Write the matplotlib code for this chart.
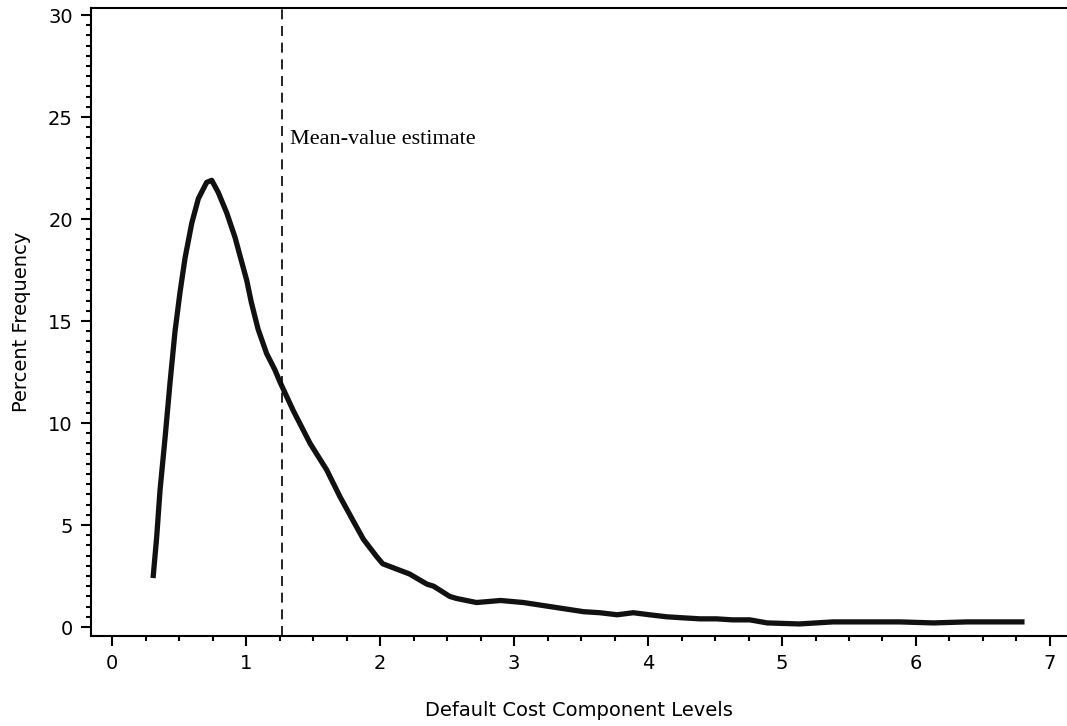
import numpy as np
import matplotlib.pyplot as plt
from matplotlib.ticker import MultipleLocator

level = [0.306, 0.333, 0.358, 0.396, 0.433, 0.47, 0.507, 0.545, 0.595, 0.644,
         0.706, 0.744, 0.793, 0.856, 0.918, 0.955, 1.005, 1.04, 1.09, 1.154,
         1.216, 1.254, 1.353, 1.478, 1.602, 1.70, 1.80, 1.876, 1.975, 2.02,
         2.10, 2.22, 2.35, 2.40, 2.52, 2.57, 2.72, 2.90, 3.07, 3.27, 3.52,
         3.64, 3.77, 3.89, 4.01, 4.14, 4.26, 4.39, 4.51, 4.63, 4.76, 4.89,
         5.13, 5.38, 5.63, 5.88, 6.13, 6.38, 6.81]
pct = [2.4, 4.4, 6.7, 9.3, 12.0, 14.5, 16.4, 18.1, 19.8, 21.0,
       21.8, 21.9, 21.3, 20.3, 19.1, 18.2, 17.0, 15.9, 14.6, 13.4,
       12.6, 12.0, 10.6, 9.0, 7.7, 6.4, 5.2, 4.3, 3.45, 3.1,
       2.9, 2.6, 2.1, 2.0, 1.5, 1.4, 1.2, 1.3, 1.2, 1.0, 0.75,
       0.7, 0.6, 0.7, 0.6, 0.5, 0.45, 0.4, 0.4, 0.35, 0.35, 0.2,
       0.15, 0.25, 0.25, 0.25, 0.2, 0.25, 0.25]
mean_estimate = 1.27

fig = plt.figure(figsize=(10.67, 7.26), dpi=100)
ax = fig.add_axes([0.0853, 0.124, 0.9147, 0.8656])

ax.plot(level, pct, color="#111111", lw=3.8, solid_joinstyle="round",
        solid_capstyle="butt")
ax.axvline(mean_estimate, color="black", lw=1.2, dashes=(6, 4))
ax.text(mean_estimate + 0.06, 23.9, "Mean-value estimate",
        family="Liberation Serif", fontsize=16, va="center", ha="left")

ax.set_xlim(-0.157, 7.127)
ax.set_ylim(-0.44, 30.37)
ax.xaxis.set_major_locator(MultipleLocator(1))
ax.xaxis.set_minor_locator(MultipleLocator(0.25))
ax.yaxis.set_major_locator(MultipleLocator(5))
ax.yaxis.set_minor_locator(MultipleLocator(0.5))
ax.tick_params(which="major", length=7, width=1.5, labelsize=14, pad=6)
ax.tick_params(which="minor", length=3.5, width=1.5)
ax.spines["right"].set_visible(False)
for s in ["left", "bottom", "top"]:
    ax.spines[s].set_linewidth(1.5)

ax.set_xlabel("Default Cost Component Levels", fontsize=14, labelpad=20)
ax.set_ylabel("Percent Frequency", fontsize=14, labelpad=12)

fig.savefig("out.png", dpi=100)
